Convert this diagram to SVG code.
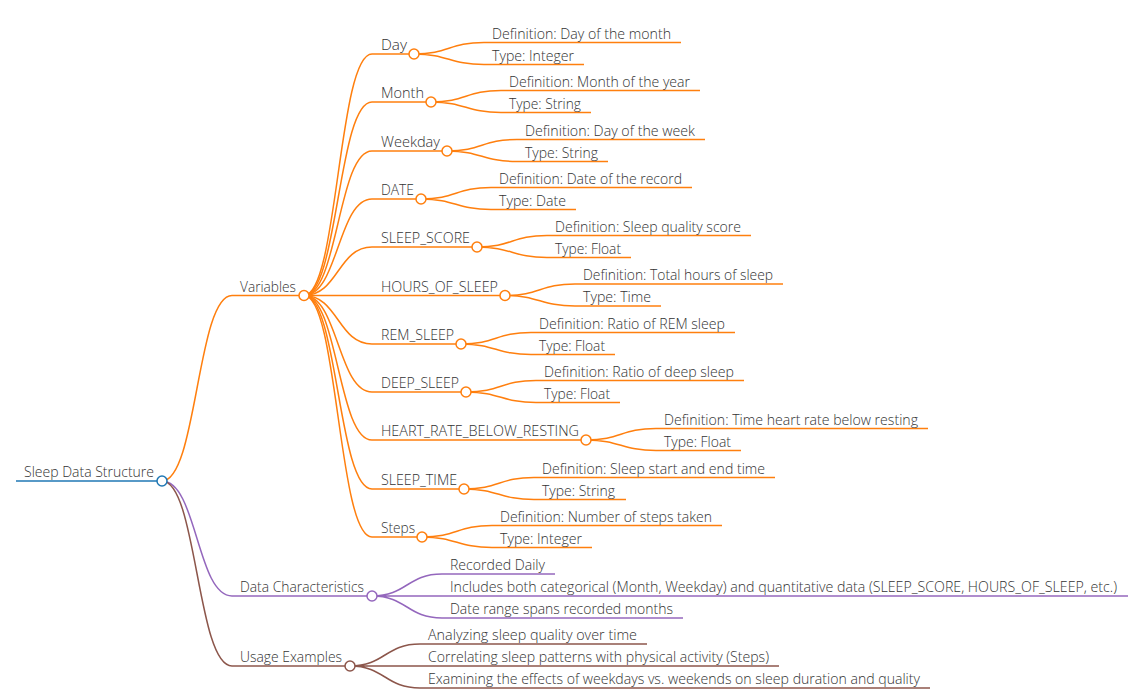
<svg xmlns="http://www.w3.org/2000/svg" width="1147" height="697" viewBox="0 0 1147 697">
<style>
.t{font-family:"Open Sans","Noto Sans","Liberation Sans",sans-serif;font-size:14px;font-weight:300;fill:#333}
path,line{fill:none;stroke-width:1.5}
circle{fill:#fff;stroke-width:1.5}
.b{stroke:#1f77b4}.o{stroke:#ff7f0e}.p{stroke:#9467bd}.r{stroke:#8c564b}
</style>
<rect width="1147" height="697" fill="#fff"/>
<g id="connectors">
<path class="o" d="M162 481C197 481 197 295.5 232 295.5"/>
<path class="p" d="M162 481C197 481 197 596 232 596"/>
<path class="r" d="M162 481C197 481 197 666 232 666"/>
<path class="o" d="M304 295.5C338 295.5 338 54 372 54"/>
<path class="o" d="M304 295.5C338 295.5 338 102 372 102"/>
<path class="o" d="M304 295.5C338 295.5 338 151 372 151"/>
<path class="o" d="M304 295.5C338 295.5 338 199 372 199"/>
<path class="o" d="M304 295.5C338 295.5 338 247 372 247"/>
<path class="o" d="M304 295.5C338 295.5 338 295.5 372 295.5"/>
<path class="o" d="M304 295.5C338 295.5 338 344 372 344"/>
<path class="o" d="M304 295.5C338 295.5 338 392 372 392"/>
<path class="o" d="M304 295.5C338 295.5 338 440 372 440"/>
<path class="o" d="M304 295.5C338 295.5 338 489 372 489"/>
<path class="o" d="M304 295.5C338 295.5 338 537 372 537"/>
<path class="o" d="M414 54C449 54 449 42.5 484 42.5M414 54C449 54 449 64.5 484 64.5"/>
<path class="o" d="M431 102C466 102 466 90.5 501 90.5M431 102C466 102 466 112.5 501 112.5"/>
<path class="o" d="M447 151C482 151 482 139.5 517 139.5M447 151C482 151 482 161.5 517 161.5"/>
<path class="o" d="M421 199C456 199 456 187.5 491 187.5M421 199C456 199 456 209.5 491 209.5"/>
<path class="o" d="M477 247C512 247 512 235.5 547 235.5M477 247C512 247 512 257.5 547 257.5"/>
<path class="o" d="M505 295.5C540 295.5 540 284 575 284M505 295.5C540 295.5 540 306 575 306"/>
<path class="o" d="M461 344C496 344 496 332.5 531 332.5M461 344C496 344 496 354.5 531 354.5"/>
<path class="o" d="M466 392C501 392 501 380.5 536 380.5M466 392C501 392 501 402.5 536 402.5"/>
<path class="o" d="M586 440C621 440 621 428.5 656 428.5M586 440C621 440 621 450.5 656 450.5"/>
<path class="o" d="M464 489C499 489 499 477.5 534 477.5M464 489C499 489 499 499.5 534 499.5"/>
<path class="o" d="M422 537C457 537 457 525.5 492 525.5M422 537C457 537 457 547.5 492 547.5"/>
<path class="p" d="M372 596C407 596 407 574 442 574M372 596L442 596M372 596C407 596 407 618 442 618"/>
<path class="r" d="M350 666C385 666 385 644 420 644M350 666L420 666M350 666C385 666 385 688 420 688"/>
</g>
<g id="root"><line class="b" x1="16" y1="481" x2="162" y2="481"/><text class="t" x="24" y="477" textLength="130" lengthAdjust="spacingAndGlyphs">Sleep Data Structure</text><circle class="b" cx="162" cy="481" r="5"/></g>
<g id="variables"><line class="o" x1="232" y1="295.5" x2="304" y2="295.5"/><text class="t" x="240" y="291.5" textLength="56" lengthAdjust="spacingAndGlyphs">Variables</text><circle class="o" cx="304" cy="295.5" r="5"/></g>
<g id="day"><line class="o" x1="372" y1="54" x2="414" y2="54"/><text class="t" x="381" y="50" textLength="26" lengthAdjust="spacingAndGlyphs">Day</text><circle class="o" cx="414" cy="54" r="5"/></g>
<g id="day-def"><line class="o" x1="484" y1="42.5" x2="681" y2="42.5"/><text class="t" x="492" y="38.5" textLength="179" lengthAdjust="spacingAndGlyphs">Definition: Day of the month</text></g>
<g id="day-type"><line class="o" x1="484" y1="64.5" x2="584" y2="64.5"/><text class="t" x="492" y="60.5" textLength="82" lengthAdjust="spacingAndGlyphs">Type: Integer</text></g>
<g id="month"><line class="o" x1="372" y1="102" x2="431" y2="102"/><text class="t" x="381" y="98" textLength="43" lengthAdjust="spacingAndGlyphs">Month</text><circle class="o" cx="431" cy="102" r="5"/></g>
<g id="month-def"><line class="o" x1="501" y1="90.5" x2="700" y2="90.5"/><text class="t" x="509" y="86.5" textLength="181" lengthAdjust="spacingAndGlyphs">Definition: Month of the year</text></g>
<g id="month-type"><line class="o" x1="501" y1="112.5" x2="591" y2="112.5"/><text class="t" x="509" y="108.5" textLength="72" lengthAdjust="spacingAndGlyphs">Type: String</text></g>
<g id="weekday"><line class="o" x1="372" y1="151" x2="447" y2="151"/><text class="t" x="381" y="147" textLength="59" lengthAdjust="spacingAndGlyphs">Weekday</text><circle class="o" cx="447" cy="151" r="5"/></g>
<g id="weekday-def"><line class="o" x1="517" y1="139.5" x2="705" y2="139.5"/><text class="t" x="525" y="135.5" textLength="170" lengthAdjust="spacingAndGlyphs">Definition: Day of the week</text></g>
<g id="weekday-type"><line class="o" x1="517" y1="161.5" x2="608" y2="161.5"/><text class="t" x="525" y="157.5" textLength="73" lengthAdjust="spacingAndGlyphs">Type: String</text></g>
<g id="date"><line class="o" x1="372" y1="199" x2="421" y2="199"/><text class="t" x="381" y="195" textLength="33" lengthAdjust="spacingAndGlyphs">DATE</text><circle class="o" cx="421" cy="199" r="5"/></g>
<g id="date-def"><line class="o" x1="491" y1="187.5" x2="692" y2="187.5"/><text class="t" x="499" y="183.5" textLength="183" lengthAdjust="spacingAndGlyphs">Definition: Date of the record</text></g>
<g id="date-type"><line class="o" x1="491" y1="209.5" x2="576" y2="209.5"/><text class="t" x="499" y="205.5" textLength="67" lengthAdjust="spacingAndGlyphs">Type: Date</text></g>
<g id="sleep-score"><line class="o" x1="372" y1="247" x2="477" y2="247"/><text class="t" x="381" y="243" textLength="89" lengthAdjust="spacingAndGlyphs">SLEEP_SCORE</text><circle class="o" cx="477" cy="247" r="5"/></g>
<g id="sleep-score-def"><line class="o" x1="547" y1="235.5" x2="751" y2="235.5"/><text class="t" x="555" y="231.5" textLength="186" lengthAdjust="spacingAndGlyphs">Definition: Sleep quality score</text></g>
<g id="sleep-score-type"><line class="o" x1="547" y1="257.5" x2="631" y2="257.5"/><text class="t" x="555" y="253.5" textLength="66" lengthAdjust="spacingAndGlyphs">Type: Float</text></g>
<g id="hours-of-sleep"><line class="o" x1="372" y1="295.5" x2="505" y2="295.5"/><text class="t" x="381" y="291.5" textLength="117" lengthAdjust="spacingAndGlyphs">HOURS_OF_SLEEP</text><circle class="o" cx="505" cy="295.5" r="5"/></g>
<g id="hours-def"><line class="o" x1="575" y1="284" x2="783" y2="284"/><text class="t" x="583" y="280" textLength="190" lengthAdjust="spacingAndGlyphs">Definition: Total hours of sleep</text></g>
<g id="hours-type"><line class="o" x1="575" y1="306" x2="661" y2="306"/><text class="t" x="583" y="302" textLength="68" lengthAdjust="spacingAndGlyphs">Type: Time</text></g>
<g id="rem-sleep"><line class="o" x1="372" y1="344" x2="461" y2="344"/><text class="t" x="381" y="340" textLength="73" lengthAdjust="spacingAndGlyphs">REM_SLEEP</text><circle class="o" cx="461" cy="344" r="5"/></g>
<g id="rem-def"><line class="o" x1="531" y1="332.5" x2="735" y2="332.5"/><text class="t" x="539" y="328.5" textLength="186" lengthAdjust="spacingAndGlyphs">Definition: Ratio of REM sleep</text></g>
<g id="rem-type"><line class="o" x1="531" y1="354.5" x2="615" y2="354.5"/><text class="t" x="539" y="350.5" textLength="66" lengthAdjust="spacingAndGlyphs">Type: Float</text></g>
<g id="deep-sleep"><line class="o" x1="372" y1="392" x2="466" y2="392"/><text class="t" x="381" y="388" textLength="78" lengthAdjust="spacingAndGlyphs">DEEP_SLEEP</text><circle class="o" cx="466" cy="392" r="5"/></g>
<g id="deep-def"><line class="o" x1="536" y1="380.5" x2="744" y2="380.5"/><text class="t" x="544" y="376.5" textLength="190" lengthAdjust="spacingAndGlyphs">Definition: Ratio of deep sleep</text></g>
<g id="deep-type"><line class="o" x1="536" y1="402.5" x2="620" y2="402.5"/><text class="t" x="544" y="398.5" textLength="66" lengthAdjust="spacingAndGlyphs">Type: Float</text></g>
<g id="heart-rate"><line class="o" x1="372" y1="440" x2="586" y2="440"/><text class="t" x="381" y="436" textLength="198" lengthAdjust="spacingAndGlyphs">HEART_RATE_BELOW_RESTING</text><circle class="o" cx="586" cy="440" r="5"/></g>
<g id="heart-def"><line class="o" x1="656" y1="428.5" x2="928" y2="428.5"/><text class="t" x="664" y="424.5" textLength="254" lengthAdjust="spacingAndGlyphs">Definition: Time heart rate below resting</text></g>
<g id="heart-type"><line class="o" x1="656" y1="450.5" x2="741" y2="450.5"/><text class="t" x="664" y="446.5" textLength="67" lengthAdjust="spacingAndGlyphs">Type: Float</text></g>
<g id="sleep-time"><line class="o" x1="372" y1="489" x2="464" y2="489"/><text class="t" x="381" y="485" textLength="76" lengthAdjust="spacingAndGlyphs">SLEEP_TIME</text><circle class="o" cx="464" cy="489" r="5"/></g>
<g id="sleep-time-def"><line class="o" x1="534" y1="477.5" x2="775" y2="477.5"/><text class="t" x="542" y="473.5" textLength="223" lengthAdjust="spacingAndGlyphs">Definition: Sleep start and end time</text></g>
<g id="sleep-time-type"><line class="o" x1="534" y1="499.5" x2="626" y2="499.5"/><text class="t" x="542" y="495.5" textLength="73" lengthAdjust="spacingAndGlyphs">Type: String</text></g>
<g id="steps"><line class="o" x1="372" y1="537" x2="422" y2="537"/><text class="t" x="381" y="533" textLength="34" lengthAdjust="spacingAndGlyphs">Steps</text><circle class="o" cx="422" cy="537" r="5"/></g>
<g id="steps-def"><line class="o" x1="492" y1="525.5" x2="722" y2="525.5"/><text class="t" x="500" y="521.5" textLength="212" lengthAdjust="spacingAndGlyphs">Definition: Number of steps taken</text></g>
<g id="steps-type"><line class="o" x1="492" y1="547.5" x2="592" y2="547.5"/><text class="t" x="500" y="543.5" textLength="82" lengthAdjust="spacingAndGlyphs">Type: Integer</text></g>
<g id="data-characteristics"><line class="p" x1="232" y1="596" x2="372" y2="596"/><text class="t" x="240" y="592" textLength="124" lengthAdjust="spacingAndGlyphs">Data Characteristics</text><circle class="p" cx="372" cy="596" r="5"/></g>
<g id="recorded-daily"><line class="p" x1="442" y1="574" x2="555" y2="574"/><text class="t" x="450" y="570" textLength="95" lengthAdjust="spacingAndGlyphs">Recorded Daily</text></g>
<g id="includes"><line class="p" x1="442" y1="596" x2="1128" y2="596"/><text class="t" x="450" y="592" textLength="667" lengthAdjust="spacingAndGlyphs">Includes both categorical (Month, Weekday) and quantitative data (SLEEP_SCORE, HOURS_OF_SLEEP, etc.)</text></g>
<g id="date-range"><line class="p" x1="442" y1="618" x2="683" y2="618"/><text class="t" x="450" y="614" textLength="223" lengthAdjust="spacingAndGlyphs">Date range spans recorded months</text></g>
<g id="usage-examples"><line class="r" x1="232" y1="666" x2="350" y2="666"/><text class="t" x="240" y="662" textLength="102" lengthAdjust="spacingAndGlyphs">Usage Examples</text><circle class="r" cx="350" cy="666" r="5"/></g>
<g id="analyzing"><line class="r" x1="420" y1="644" x2="647" y2="644"/><text class="t" x="428" y="640" textLength="209" lengthAdjust="spacingAndGlyphs">Analyzing sleep quality over time</text></g>
<g id="correlating"><line class="r" x1="420" y1="666" x2="779" y2="666"/><text class="t" x="428" y="662" textLength="341" lengthAdjust="spacingAndGlyphs">Correlating sleep patterns with physical activity (Steps)</text></g>
<g id="examining"><line class="r" x1="420" y1="688" x2="930" y2="688"/><text class="t" x="428" y="684" textLength="492" lengthAdjust="spacingAndGlyphs">Examining the effects of weekdays vs. weekends on sleep duration and quality</text></g>
</svg>
